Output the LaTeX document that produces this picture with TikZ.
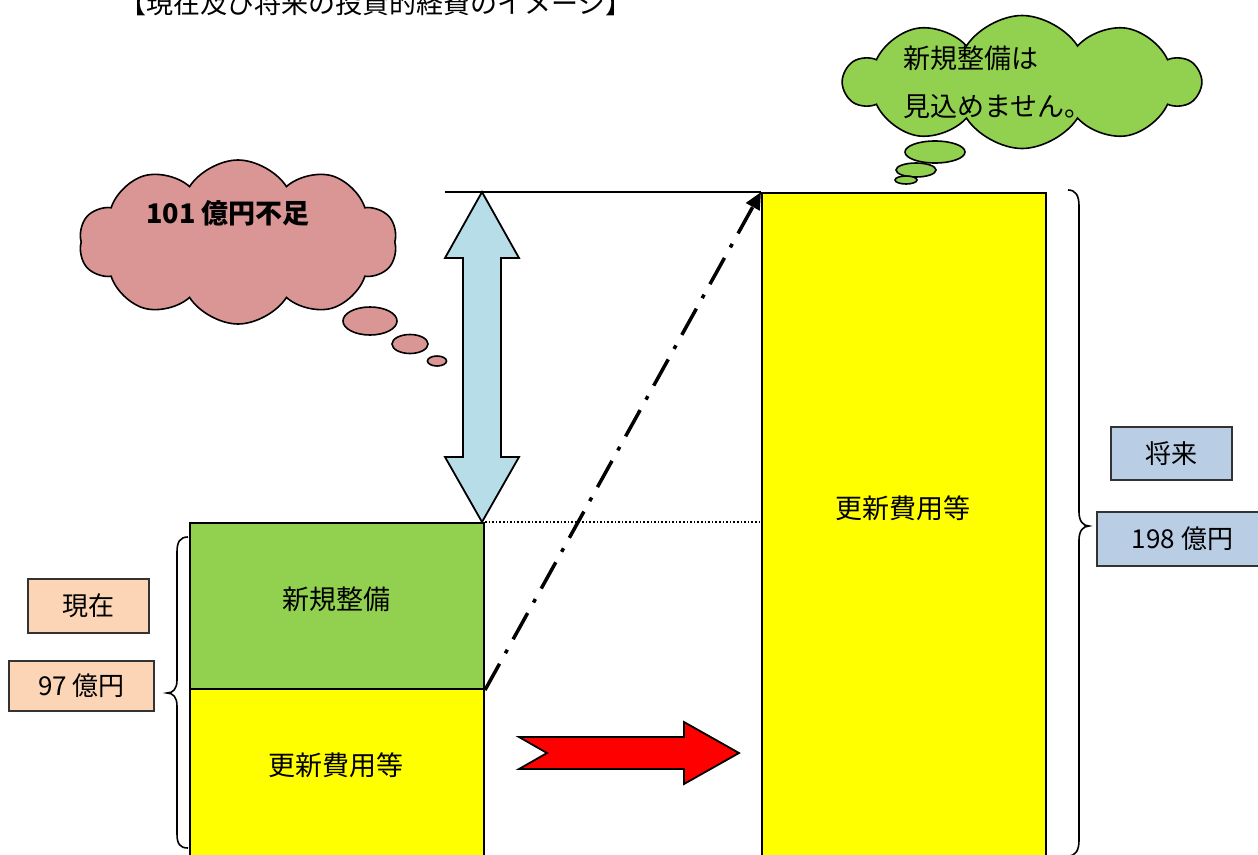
\documentclass[tikz,border=0pt]{standalone}
\usepackage{fontspec}
\setmainfont{Noto Sans CJK JP}
\usetikzlibrary{shapes.symbols,shapes.geometric,arrows.meta,calc}
\definecolor{cgreen}{HTML}{92D050}
\definecolor{cyellow}{HTML}{FFFF00}
\definecolor{cpink}{HTML}{D99694}
\definecolor{cblue}{HTML}{B7DEE8}
\definecolor{cpeach}{HTML}{FBD5B5}
\definecolor{csteel}{HTML}{B9CDE5}
\definecolor{cred}{HTML}{FF0000}
\begin{document}
\begin{tikzpicture}[x=1pt,y=-1pt,
  box/.style={draw=black, line width=2pt, inner sep=0pt, anchor=north west},
  lbl/.style={draw=black!80, line width=1.6pt, inner sep=0pt, font=\fontsize{26}{30}\selectfont},
  txt/.style={inner sep=0pt, font=\fontsize{27}{32}\selectfont},
  cloudshape/.style={cloud, draw=black, line width=1.6pt, cloud puffs=10, cloud puff arc=115, inner sep=0pt},
  bubble/.style={ellipse, draw=black, line width=1.6pt, inner sep=0pt},
  brace/.style={draw=black, line width=1.6pt},
  shapeline/.style={draw=black, line width=1.8pt, line join=miter}
]
\path[use as bounding box, clip] (0,0) rectangle (1258,854);
\fill[white] (0,0) rectangle (1258,854);

% title
\node[txt, anchor=base] (title) at (376,13) {【現在及び将来の投資的経費のイメージ】};

% left stack
\node[box, fill=cgreen, minimum width=294pt, minimum height=166pt] (gbox) at (189,522) {};
\node[box, fill=cyellow, minimum width=294pt, minimum height=180pt] (ybox) at (189,688) {};
\node[txt] (gtxt) at (336,599) {新規整備};
\node[txt] (ytxt) at (336,765) {更新費用等};

% right bar
\node[box, fill=cyellow, minimum width=284pt, minimum height=680pt] (rbar) at (761,192) {};
\node[txt] (rtxt) at (903,508) {更新費用等};

% top line and dotted line
\coordinate (topl) at (445,192);
\draw[line width=1.6pt] (topl) -- (rbar.north west);
\draw[line width=1.6pt, dotted] (gbox.north east) -- (gbox.north east -| rbar.west);

% blue double arrow
\coordinate (btop) at (482,192);
\coordinate (bbot) at (482,522);
\draw[shapeline, fill=cblue] (btop) -- ($(btop)+(37,66)$) -- ($(btop)+(19,66)$) -- ($(bbot)+(19,-65)$) -- ($(bbot)+(37,-65)$) -- (bbot)
  -- ($(bbot)+(-37,-65)$) -- ($(bbot)+(-19,-65)$) -- ($(btop)+(-19,66)$) -- ($(btop)+(-37,66)$) -- cycle;

% dash-dot arrow
\draw[line width=3.5pt, dash pattern=on 30pt off 12pt on 4pt off 12pt, -{Triangle[length=17pt,width=15pt]}] (gbox.south east) -- (rbar.north west);

% red arrow
\coordinate (rtail) at (519,753);
\coordinate (rtip) at (739,753);
\draw[shapeline, fill=cred] ($(rtail)+(0,-16)$) -- ($(rtip)+(-55,-16)$) -- ($(rtip)+(-55,-31)$) -- (rtip)
  -- ($(rtip)+(-55,31)$) -- ($(rtip)+(-55,16)$) -- ($(rtail)+(0,16)$) -- ($(rtail)+(28,0)$) -- cycle;

% braces
\draw[brace] (188,537) .. controls (180,537) and (177,542) .. (177,552) -- (177,680)
  .. controls (177,689) and (173,693) .. (167,693) .. controls (173,693) and (177,697) .. (177,706)
  -- (177,834) .. controls (177,844) and (180,848) .. (188,848);
\draw[brace] (1068,190) .. controls (1076,190) and (1079,196) .. (1079,206) -- (1079,512)
  .. controls (1079,521) and (1083,526) .. (1089,526) .. controls (1083,526) and (1079,531) .. (1079,540)
  -- (1079,840) .. controls (1079,850) and (1076,856) .. (1068,856);

% labels
\node[lbl, fill=cpeach, minimum width=121pt, minimum height=54pt] (now) at (88.5,606) {現在};
\node[lbl, fill=cpeach, minimum width=145pt, minimum height=50pt] (nowv) at (81.5,686) {97 億円};
\node[lbl, fill=csteel, minimum width=121pt, minimum height=53pt] (fut) at (1171.5,453.5) {将来};
\node[lbl, fill=csteel, minimum width=171pt, minimum height=54pt] (futv) at (1182.5,539) {198 億円};

% pink cloud
\node[cloudshape, fill=cpink, aspect=1.94, minimum width=318pt, minimum height=164pt] (pcloud) at (238,242) {};
\node[txt, font=\fontsize{27}{32}\selectfont\bfseries] (ptxt) at (228,213) {101 億円不足};
\node[bubble, fill=cpink, minimum width=54pt, minimum height=28pt] (pb1) at (370,321) {};
\node[bubble, fill=cpink, minimum width=36pt, minimum height=19pt] (pb2) at (410,344) {};
\node[bubble, fill=cpink, minimum width=19pt, minimum height=10pt] (pb3) at (437,361) {};

% green cloud
\node[cloudshape, fill=cgreen, aspect=2.67, minimum width=355pt, minimum height=133pt] (gcloud) at (1022,82) {};
\node[txt, anchor=west] (gt1) at (903,58) {新規整備は};
\node[txt, anchor=west] (gt2) at (903,107) {見込めません。};
\node[bubble, fill=cgreen, minimum width=60pt, minimum height=22pt] (gb1) at (935,152) {};
\node[bubble, fill=cgreen, minimum width=40pt, minimum height=14pt] (gb2) at (916,170) {};
\node[bubble, fill=cgreen, minimum width=22pt, minimum height=8pt] (gb3) at (906,180) {};
\end{tikzpicture}
\end{document}
